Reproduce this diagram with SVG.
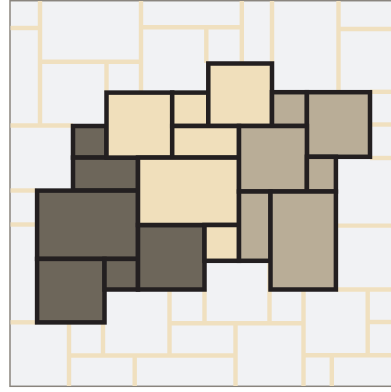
<svg xmlns="http://www.w3.org/2000/svg" width="391" height="392" viewBox="0 0 391 392">
  <style>
    .grout line { stroke: #f0e0bf; stroke-width: 4.4; }
    .tile { stroke: #231f20; stroke-width: 4.5; }
    .dark { fill: #6d665a; }
    .cream { fill: #f0dfbb; }
    .tan { fill: #b9ad97; }
  </style>
  <rect x="0" y="0" width="391" height="392" fill="#ffffff"/>
  <rect id="field" x="10" y="0.7" width="390" height="385.6" fill="#f1f2f4" stroke="#8a857e" stroke-width="1.5"/>
  <g id="grout" class="grout">
    <line x1="40" y1="1" x2="40" y2="125.5"/>
    <line x1="10.5" y1="28" x2="40" y2="28"/>
    <line x1="40" y1="61.7" x2="141" y2="61.7"/>
    <line x1="106.5" y1="61.7" x2="106.5" y2="92"/>
    <line x1="141" y1="1" x2="141" y2="92"/>
    <line x1="141" y1="27.2" x2="241.8" y2="27.2"/>
    <line x1="206.3" y1="27.2" x2="206.3" y2="63"/>
    <line x1="241.8" y1="1" x2="241.8" y2="63"/>
    <line x1="272" y1="1" x2="272" y2="63"/>
    <line x1="338.5" y1="1" x2="338.5" y2="92"/>
    <line x1="338.5" y1="29" x2="391" y2="29"/>
    <line x1="370" y1="91.8" x2="391" y2="91.8"/>
    <line x1="370" y1="124.5" x2="391" y2="124.5"/>
    <line x1="370" y1="158" x2="391" y2="158"/>
    <line x1="10.5" y1="125.5" x2="73" y2="125.5"/>
    <line x1="10.5" y1="190.5" x2="37" y2="190.5"/>
    <line x1="10.5" y1="224.5" x2="37" y2="224.5"/>
    <line x1="10.5" y1="322.3" x2="37" y2="322.3"/>
    <line x1="69" y1="322.3" x2="69" y2="386"/>
    <line x1="103" y1="322.3" x2="103" y2="355.5"/>
    <line x1="69" y1="355.5" x2="235.5" y2="355.5"/>
    <line x1="134.7" y1="355.5" x2="134.7" y2="386"/>
    <line x1="169.5" y1="289.5" x2="169.5" y2="355.5"/>
    <line x1="169.5" y1="323.2" x2="303.5" y2="323.2"/>
    <line x1="204.5" y1="289.5" x2="204.5" y2="323.2"/>
    <line x1="235.5" y1="323.2" x2="235.5" y2="386"/>
    <line x1="269.5" y1="261" x2="269.5" y2="323.2"/>
    <line x1="303.5" y1="289.5" x2="303.5" y2="386"/>
    <line x1="303.5" y1="355.3" x2="391" y2="355.3"/>
    <line x1="331.8" y1="355.3" x2="331.8" y2="386"/>
    <line x1="367.7" y1="289.5" x2="367.7" y2="355.3"/>
    <line x1="367.7" y1="322" x2="391" y2="322"/>
    <line x1="336" y1="289.5" x2="391" y2="289.5"/>
    <line x1="336" y1="225.6" x2="391" y2="225.6"/>
  </g>
  <g id="tiles">
    <g id="dark-tiles">
      <rect id="d1" class="tile dark" x="73" y="126" width="33.5" height="31.6"/>
      <rect id="d2" class="tile dark" x="73" y="157.6" width="65" height="33"/>
      <rect id="d3" class="tile dark" x="37.1" y="190.6" width="100.9" height="68.3"/>
      <rect id="d4" class="tile dark" x="37.1" y="258.9" width="67.4" height="63.5"/>
      <rect id="d5" class="tile dark" x="104.5" y="258.9" width="33.5" height="30.6"/>
      <rect id="d6" class="tile dark" x="138" y="225" width="66.5" height="64.5"/>
    </g>
    <g id="cream-tiles">
      <rect id="c1" class="tile cream" x="106.5" y="92.6" width="65.7" height="65"/>
      <rect id="c2" class="tile cream" x="172.2" y="92.6" width="36.1" height="33.4"/>
      <rect id="c3" class="tile cream" x="208.3" y="63.5" width="63.7" height="62.5"/>
      <rect id="c4" class="tile cream" x="172.2" y="126" width="66.8" height="31.6"/>
      <rect id="c5" class="tile cream" x="138" y="157.6" width="101" height="67.4"/>
      <rect id="c6" class="tile cream" x="204.5" y="225" width="34.5" height="35.8"/>
    </g>
    <g id="tan-tiles">
      <rect id="t1" class="tile tan" x="272" y="92.2" width="34.9" height="33.8"/>
      <rect id="t2" class="tile tan" x="306.9" y="92.2" width="63.1" height="64.6"/>
      <rect id="t3" class="tile tan" x="239" y="126" width="67.9" height="65.5"/>
      <rect id="t4" class="tile tan" x="306.9" y="156.8" width="29" height="34.7"/>
      <rect id="t5" class="tile tan" x="239" y="191.5" width="31.5" height="69.3"/>
      <rect id="t6" class="tile tan" x="270.5" y="191.5" width="65.4" height="98"/>
    </g>
  </g>
</svg>
